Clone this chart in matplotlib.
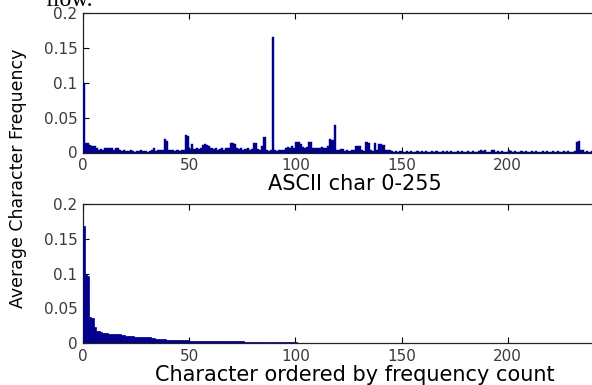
import numpy as np
import matplotlib.pyplot as plt

# average frequency of each ASCII code 0-255
ascii_freq = [
    0.100, 0.013, 0.013, 0.011, 0.010, 0.009, 0.006, 0.004, 0.005, 0.004, 0.006, 0.007, 0.007, 0.006, 0.004, 0.007,
    0.007, 0.003, 0.002, 0.003, 0.002, 0.002, 0.003, 0.002, 0.001, 0.002, 0.002, 0.003, 0.002, 0.002, 0.001, 0.002,
    0.003, 0.007, 0.002, 0.003, 0.003, 0.004, 0.019, 0.017, 0.004, 0.003, 0.003, 0.002, 0.003, 0.002, 0.003, 0.004,
    0.025, 0.024, 0.005, 0.012, 0.005, 0.006, 0.005, 0.006, 0.011, 0.012, 0.011, 0.010, 0.006, 0.005, 0.007, 0.004,
    0.005, 0.006, 0.004, 0.007, 0.006, 0.013, 0.014, 0.012, 0.006, 0.005, 0.006, 0.004, 0.005, 0.006, 0.004, 0.005,
    0.014, 0.014, 0.005, 0.004, 0.009, 0.022, 0.004, 0.002, 0.003, 0.165, 0.003, 0.002, 0.004, 0.004, 0.003, 0.006,
    0.008, 0.007, 0.009, 0.006, 0.015, 0.015, 0.012, 0.008, 0.007, 0.008, 0.015, 0.015, 0.006, 0.007, 0.007, 0.006,
    0.008, 0.007, 0.007, 0.009, 0.019, 0.018, 0.039, 0.003, 0.003, 0.005, 0.005, 0.002, 0.003, 0.002, 0.003, 0.003,
    0.010, 0.009, 0.009, 0.003, 0.002, 0.015, 0.014, 0.003, 0.002, 0.013, 0.004, 0.012, 0.012, 0.011, 0.004, 0.003,
    0.003, 0.002, 0.001, 0.002, 0.001, 0.002, 0.001, 0.001, 0.002, 0.001, 0.002, 0.001, 0.001, 0.002, 0.001, 0.002,
    0.001, 0.002, 0.001, 0.001, 0.002, 0.001, 0.002, 0.001, 0.001, 0.002, 0.001, 0.002, 0.001, 0.002, 0.001, 0.001,
    0.002, 0.001, 0.002, 0.001, 0.001, 0.002, 0.001, 0.002, 0.001, 0.001, 0.002, 0.003, 0.002, 0.003, 0.001, 0.001,
    0.004, 0.003, 0.001, 0.002, 0.001, 0.002, 0.001, 0.001, 0.003, 0.002, 0.001, 0.002, 0.001, 0.001, 0.002, 0.001,
    0.002, 0.001, 0.001, 0.002, 0.001, 0.002, 0.001, 0.001, 0.002, 0.001, 0.002, 0.001, 0.001, 0.002, 0.001, 0.002,
    0.001, 0.001, 0.002, 0.001, 0.002, 0.001, 0.001, 0.002, 0.015, 0.016, 0.004, 0.003, 0.001, 0.002, 0.001, 0.002,
    0.001, 0.002, 0.001, 0.001, 0.002, 0.001, 0.002, 0.001, 0.001, 0.002, 0.001, 0.002, 0.001, 0.001, 0.002, 0.001,
]

# same frequencies ordered by count (lower panel)
sorted_freq = [
    0.168, 0.099, 0.097, 0.038, 0.036, 0.024, 0.018, 0.017, 0.0165, 0.015, 0.0145, 0.0142, 0.014, 0.0138, 0.0135, 0.0133,
    0.013, 0.0128, 0.0125, 0.012, 0.011, 0.0105, 0.010, 0.0098, 0.0097, 0.0096, 0.0095, 0.0093, 0.0092, 0.009, 0.0088, 0.0085,
    0.0075, 0.007, 0.0065, 0.0062, 0.006, 0.0058, 0.0056, 0.0052, 0.005, 0.0049, 0.0048, 0.0047, 0.0046, 0.0045, 0.0044, 0.0043,
    0.0042, 0.0041, 0.004, 0.0038, 0.0037, 0.0037, 0.0036, 0.0036, 0.0035, 0.0035, 0.0034, 0.0034, 0.0033, 0.0033, 0.0032, 0.0032,
    0.0031, 0.0031, 0.003, 0.003, 0.003, 0.0029, 0.0029, 0.0028, 0.0028, 0.0027, 0.0027, 0.0026, 0.0022, 0.0022, 0.0021, 0.0021,
    0.002, 0.002, 0.0019, 0.0019, 0.0018, 0.0018, 0.0017, 0.0017, 0.0016, 0.0016, 0.0015, 0.0015, 0.0014, 0.0014, 0.0013, 0.0013,
    0.0013, 0.0012, 0.0012, 0.0012, 0.0012, 0.0011, 0.0011, 0.0011, 0.0011, 0.001, 0.001, 0.001, 0.001, 0.001, 0.0009, 0.0009,
    0.0009, 0.0009, 0.0009, 0.0008, 0.0008, 0.0008, 0.0008, 0.0008, 0.0008,
] + [0.0003] * 55 + [0.0001] * 80

bar_color = '#00008c'
tail_color = '#7b7bd0'
tick_color = '#3a3a3a'

fig = plt.figure(figsize=(5.92, 3.85), dpi=100)

# cut-off text of the page above the figure
fig.text(45 / 592, 1 - 6 / 385, 'flow.', family='Liberation Serif', fontsize=17,
         va='baseline', ha='left')

ax1 = fig.add_axes([83 / 592, 1 - 152.5 / 385, 543.6 / 592, 139.5 / 385])
ax2 = fig.add_axes([83 / 592, 1 - 343.3 / 385, 543.6 / 592, 139.3 / 385])

ax1.bar(np.arange(len(ascii_freq)), ascii_freq, width=1.0, align='edge',
        color=bar_color, edgecolor=bar_color, linewidth=0.3, zorder=3)
edge_cols = [bar_color if v >= 0.0008 else tail_color for v in sorted_freq]
ax2.bar(np.arange(len(sorted_freq)), sorted_freq, width=1.0, align='edge',
        color=edge_cols, edgecolor=edge_cols, linewidth=0.5, zorder=3)

for ax in (ax1, ax2):
    ax.set_xlim(0, 256)
    ax.set_ylim(0, 0.2)
    ax.set_xticks([0, 50, 100, 150, 200])
    ax.set_yticks([0, 0.05, 0.1, 0.15, 0.2])
    ax.set_yticklabels(['0', '0.05', '0.1', '0.15', '0.2'])
    ax.tick_params(direction='in', length=4, width=0.8, top=True, right=True,
                   labelsize=11, labelcolor=tick_color, pad=4)
    for sp in ax.spines.values():
        sp.set_color('#222222')
        sp.set_linewidth(0.9)

ax1.set_xlabel('ASCII char 0-255', fontsize=15, labelpad=1)
ax2.set_xlabel('Character ordered by frequency count', fontsize=15, labelpad=1)
fig.text(18 / 592, 1 - 178 / 385, 'Average Character Frequency', rotation=90,
         fontsize=12.5, ha='center', va='center')

fig.savefig('out.png', dpi=100)
